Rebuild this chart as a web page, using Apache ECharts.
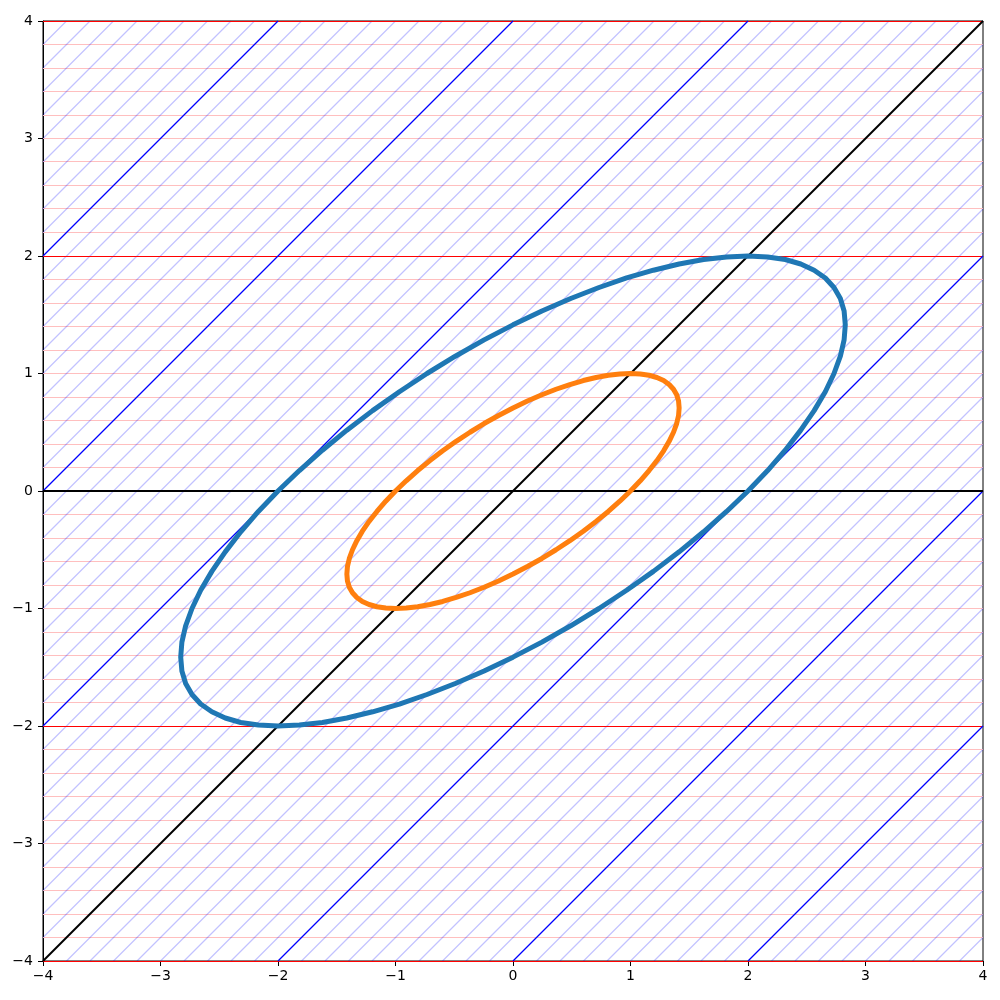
<!DOCTYPE html>
<html>
<head>
<meta charset="utf-8">
<script src="https://cdn.jsdelivr.net/npm/echarts@6/dist/echarts.min.js"></script>
<style>
  html, body { margin: 0; padding: 0; background: #fff; }
  #main { width: 1000px; height: 1000px; }
</style>
</head>
<body>
<div id="main"></div>
<script>
// tick labels
const xTicks = [-4, -3, -2, -1, 0, 1, 2, 3, 4];
const yTicks = [-4, -3, -2, -1, 0, 1, 2, 3, 4];

// horizontal lines (y = const) and diagonal lines (y = x + c)
const redLevels = [-4, -2, 2, 4];
const blueOffsets = [-6, -4, -2, 2, 4, 6];
const blackLevels = [0];
const blackOffsets = [0];
const minorStep = 0.2;

// blue ellipse (every 5 degrees round it)
const bigX = [2, 2.167, 2.317, 2.449, 2.563, 2.658, 2.732, 2.786, 2.818, 2.828, 2.818, 2.786,
  2.732, 2.658, 2.563, 2.449, 2.317, 2.167, 2, 1.818, 1.622, 1.414, 1.195, 0.967,
  0.732, 0.491, 0.246, 0, -0.246, -0.491, -0.732, -0.967, -1.195, -1.414, -1.622, -1.818,
  -2, -2.167, -2.317, -2.449, -2.563, -2.658, -2.732, -2.786, -2.818, -2.828, -2.818, -2.786,
  -2.732, -2.658, -2.563, -2.449, -2.317, -2.167, -2, -1.818, -1.622, -1.414, -1.195, -0.967,
  -0.732, -0.491, -0.246, 0, 0.246, 0.491, 0.732, 0.967, 1.195, 1.414, 1.622, 1.818, 2];
const bigY = [0, 0.174, 0.347, 0.518, 0.684, 0.845, 1, 1.147, 1.286, 1.414, 1.532, 1.638,
  1.732, 1.813, 1.879, 1.932, 1.970, 1.992, 2, 1.992, 1.970, 1.932, 1.879, 1.813,
  1.732, 1.638, 1.532, 1.414, 1.286, 1.147, 1, 0.845, 0.684, 0.518, 0.347, 0.174,
  0, -0.174, -0.347, -0.518, -0.684, -0.845, -1, -1.147, -1.286, -1.414, -1.532, -1.638,
  -1.732, -1.813, -1.879, -1.932, -1.970, -1.992, -2, -1.992, -1.970, -1.932, -1.879, -1.813,
  -1.732, -1.638, -1.532, -1.414, -1.286, -1.147, -1, -0.845, -0.684, -0.518, -0.347, -0.174, 0];
// orange ellipse
const smallX = [1, 1.083, 1.158, 1.225, 1.282, 1.329, 1.366, 1.393, 1.409, 1.414, 1.409, 1.393,
  1.366, 1.329, 1.282, 1.225, 1.158, 1.083, 1, 0.909, 0.811, 0.707, 0.598, 0.484,
  0.366, 0.246, 0.123, 0, -0.123, -0.246, -0.366, -0.484, -0.598, -0.707, -0.811, -0.909,
  -1, -1.083, -1.158, -1.225, -1.282, -1.329, -1.366, -1.393, -1.409, -1.414, -1.409, -1.393,
  -1.366, -1.329, -1.282, -1.225, -1.158, -1.083, -1, -0.909, -0.811, -0.707, -0.598, -0.484,
  -0.366, -0.246, -0.123, 0, 0.123, 0.246, 0.366, 0.484, 0.598, 0.707, 0.811, 0.909, 1];
const smallY = [0, 0.087, 0.174, 0.259, 0.342, 0.423, 0.5, 0.574, 0.643, 0.707, 0.766, 0.819,
  0.866, 0.906, 0.940, 0.966, 0.985, 0.996, 1, 0.996, 0.985, 0.966, 0.940, 0.906,
  0.866, 0.819, 0.766, 0.707, 0.643, 0.574, 0.5, 0.423, 0.342, 0.259, 0.174, 0.087,
  0, -0.087, -0.174, -0.259, -0.342, -0.423, -0.5, -0.574, -0.643, -0.707, -0.766, -0.819,
  -0.866, -0.906, -0.940, -0.966, -0.985, -0.996, -1, -0.996, -0.985, -0.966, -0.940, -0.906,
  -0.866, -0.819, -0.766, -0.707, -0.643, -0.574, -0.5, -0.423, -0.342, -0.259, -0.174, -0.087, 0];

const LO = -4, HI = 4;

function hLine(y) {
  return [LO, y, HI, y];
}
function dLine(c) {
  let x1 = Math.max(LO, LO - c), x2 = Math.min(HI, HI - c);
  if (x1 >= x2) return null;
  return [x1, x1 + c, x2, x2 + c];
}
function zip(xs, ys) {
  return xs.map((x, i) => [x, ys[i]]);
}

// faint lines every 0.2
let minorH = [], minorD = [];
for (let i = -20; i <= 20; i++) minorH.push(hLine(i * minorStep));
for (let i = -40; i <= 40; i++) {
  if (i % 10 === 0) continue; // the strong lines cover these
  let l = dLine(i * minorStep);
  if (l) minorD.push(l);
}

// pixel snapping for crisp horizontal lines, like the original
function snap(v, w) {
  return w % 2 === 1 ? Math.round(v - 0.5) + 0.5 : Math.round(v);
}

function segSeries(data, color, width, z) {
  return {
    type: 'custom',
    silent: true,
    z: z,
    data: data,
    renderItem: function (params, api) {
      let p1 = api.coord([api.value(0), api.value(1)]);
      let p2 = api.coord([api.value(2), api.value(3)]);
      if (api.value(1) === api.value(3)) { p1[1] = p2[1] = snap(p1[1], width); }
      return {
        type: 'line',
        shape: { x1: p1[0], y1: p1[1], x2: p2[0], y2: p2[1] },
        style: { stroke: color, lineWidth: width, fill: null }
      };
    }
  };
}

const fmt = v => String(v).replace('-', '\u2212');

let chart = echarts.init(document.getElementById('main'));
chart.setOption({
  backgroundColor: '#fff',
  animation: false,
  grid: {
    left: 43, right: 17, top: 21, bottom: 39,
    show: true, borderColor: '#000', borderWidth: 1, backgroundColor: 'transparent'
  },
  xAxis: {
    type: 'value', min: xTicks[0], max: xTicks[xTicks.length - 1], interval: 1,
    axisLine: { show: true, onZero: false, lineStyle: { color: '#000', width: 1 } },
    axisTick: { show: true, inside: false, length: 5, lineStyle: { color: '#000' } },
    axisLabel: { margin: 8, color: '#000', fontSize: 14, fontFamily: 'DejaVu Sans', formatter: fmt },
    splitLine: { show: false }
  },
  yAxis: {
    type: 'value', min: yTicks[0], max: yTicks[yTicks.length - 1], interval: 1,
    axisLine: { show: true, onZero: false, lineStyle: { color: '#000', width: 1 } },
    axisTick: { show: true, inside: false, length: 5, lineStyle: { color: '#000' } },
    axisLabel: { margin: 10, color: '#000', fontSize: 14, fontFamily: 'DejaVu Sans', formatter: fmt },
    splitLine: { show: false }
  },
  series: [
    segSeries(minorH, '#ffbfbf', 1, 1),
    segSeries(minorD, 'rgba(0,0,255,0.24)', 1.2, 1),
    segSeries(redLevels.map(hLine), '#ff0000', 1, 2),
    segSeries(blueOffsets.map(dLine).filter(l => l), '#0000ff', 1.2, 2),
    segSeries(blackLevels.map(hLine).concat(blackOffsets.map(dLine)), '#000000', 2, 3),
    {
      type: 'line', data: zip(bigX, bigY), showSymbol: false, z: 4,
      lineStyle: { color: '#1f77b4', width: 5, join: 'round' }
    },
    {
      type: 'line', data: zip(smallX, smallY), showSymbol: false, z: 4,
      lineStyle: { color: '#ff7f0e', width: 5, join: 'round' }
    }
  ]
});
</script>
</body>
</html>
